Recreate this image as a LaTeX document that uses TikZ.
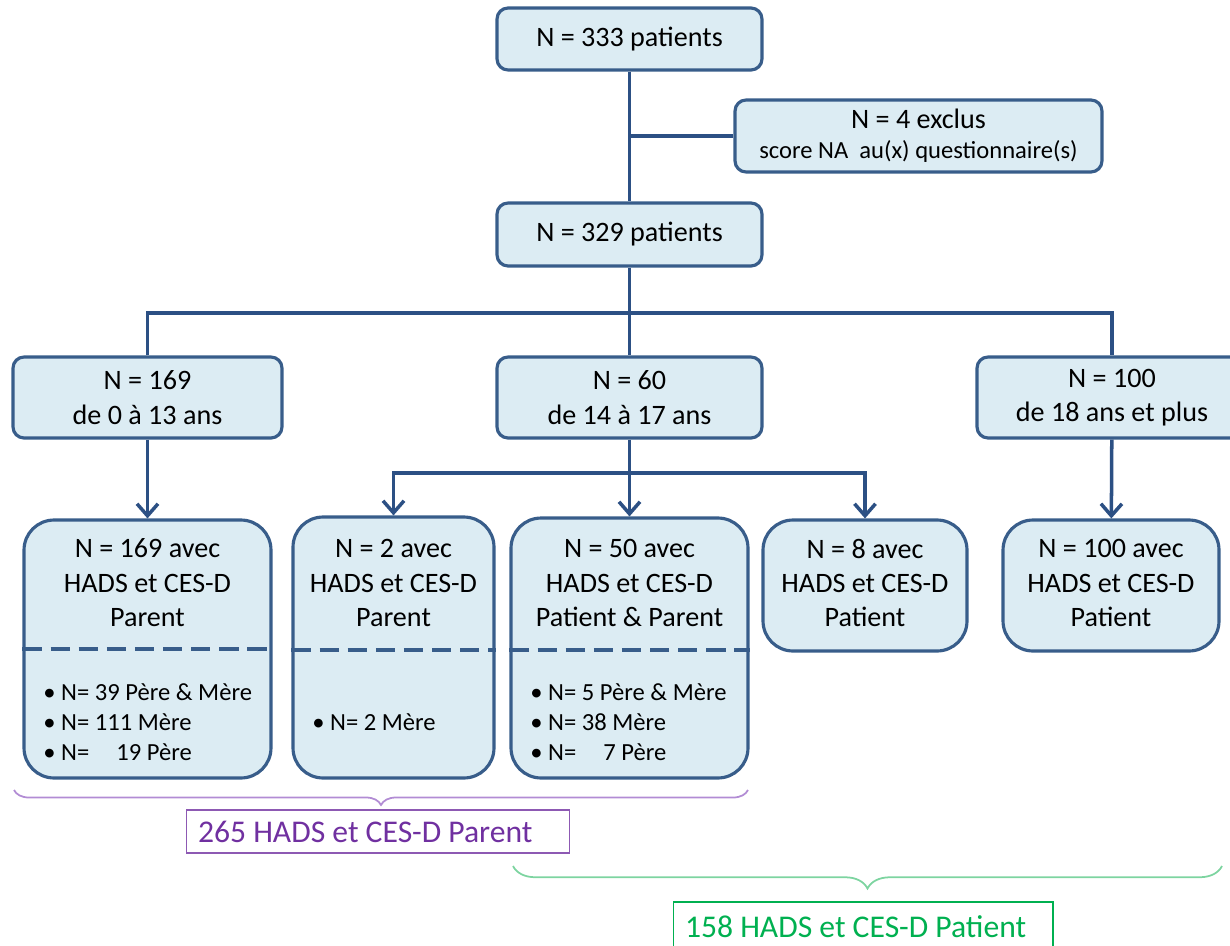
\documentclass[tikz,border=0pt]{standalone}
\usepackage{fontspec}
\setmainfont{Carlito}
\usetikzlibrary{arrows.meta, positioning, calc, decorations.pathreplacing}
\definecolor{boxfill}{RGB}{220, 236, 243}
\definecolor{boxnavy}{RGB}{56, 93, 138}
\definecolor{linknavy}{RGB}{44, 80, 132}
\definecolor{parentpurple}{RGB}{112, 48, 160}
\definecolor{bracepurple}{RGB}{178, 140, 212}
\definecolor{patientgreen}{RGB}{0, 176, 80}
\definecolor{bracegreen}{RGB}{125, 212, 160}
\tikzset{
  >=Stealth,
  link/.style={line width=2pt, linknavy},
  flowarrow/.style={-{Straight Barb[length=2.4mm, width=4.2mm]}, line width=2pt, linknavy}
}
\tikzset{
  stagebox/.style={rectangle, rounded corners=0.22cm, draw=boxnavy, fill=boxfill, line width=1.8pt, align=center, font=\fontsize{16}{19.6}\selectfont},
  groupbox/.style={rectangle, rounded corners=0.6cm, draw=boxnavy, fill=boxfill, line width=1.8pt},
  headtext/.style={align=center, inner sep=0pt, font=\fontsize{16}{19.6}\selectfont},
  sublist/.style={align=left, anchor=west, inner sep=0pt, font=\fontsize{14}{17}\selectfont},
  splitline/.style={boxnavy, line width=1.9pt, dash pattern=on 11pt off 5pt},
  sumbox/.style={rectangle, draw, line width=0.6pt, inner xsep=0.24cm, align=flush left, font=\fontsize{18}{21}\selectfont},
  sumbrace/.style={decorate, line width=1pt}
}

\begin{document}
\begin{tikzpicture}[x=0.02cm, y=-0.02cm]
    \useasboundingbox (0,0) rectangle (1230,946);

    % Whole cohort and exclusions
    \node[stagebox, minimum width=5.3cm, minimum height=1.24cm] (top333) at (629.5, 39) {N = 333 patients};
    \node[stagebox, minimum width=7.34cm, minimum height=1.44cm, font=\fontsize{16}{18}\selectfont] (excl) at (918.5, 136)
        {N = 4 exclus\\[-1pt]{\fontsize{14}{16}\selectfont score NA\ \ au(x) questionnaire(s)}};
    \node[stagebox, minimum width=5.3cm, minimum height=1.26cm] (p329) at (629.5, 234.5) {N = 329 patients};

    % Age groups
    \node[stagebox, minimum width=5.38cm, minimum height=1.62cm] (a169) at (147.5, 397.5) {N = 169\\de 0 à 13 ans};
    \node[stagebox, minimum width=5.3cm, minimum height=1.62cm] (a60) at (629.5, 397.5) {N = 60\\de 14 à 17 ans};
    \node[stagebox, minimum width=5.4cm, minimum height=1.62cm] (a100) at (1112, 397.5) {N = 100\\de 18 ans et plus};

    % Questionnaire groups
    \node[groupbox, minimum width=4.94cm, minimum height=5.16cm] (b169) at (147.5, 649) {};
    \node[groupbox, minimum width=4.02cm, minimum height=5.22cm] (b2) at (393.5, 647.5) {};
    \node[groupbox, minimum width=4.74cm, minimum height=5.2cm] (b50) at (629.5, 648) {};
    \node[groupbox, minimum width=4.08cm, minimum height=2.62cm] (b8) at (865, 585.5) {};
    \node[groupbox, minimum width=4.32cm, minimum height=2.62cm] (b100) at (1111, 585.5) {};

    \node[headtext] (b169head) at (147.5, 583) {N = 169 avec\\HADS et CES-D\\Parent};
    \node[headtext] (b2head) at (393.5, 583) {N = 2 avec\\HADS et CES-D\\Parent};
    \node[headtext] (b50head) at (629.5, 583) {N = 50 avec\\HADS et CES-D\\Patient \& Parent};
    \node[headtext] (b8head) at (865, 583) {N = 8 avec\\HADS et CES-D\\Patient};
    \node[headtext] (b100head) at (1111, 583) {N = 100 avec\\HADS et CES-D\\Patient};

    \draw[splitline] (b169.west |- 0, 649) -- (b169.east |- 0, 649);
    \draw[splitline] (b2.west |- 0, 650) -- (b2.east |- 0, 650);
    \draw[splitline] (b50.west |- 0, 650) -- (b50.east |- 0, 650);

    \node[sublist] (b169list) at (43, 722) {• N= 39 Père \& Mère\\• N= 111 Mère\\• N=\hspace{1.1em}19 Père};
    \node[sublist] (b2list) at (312, 722) {• N= 2 Mère};
    \node[sublist] (b50list) at (530, 722) {• N= 5 Père \& Mère\\• N= 38 Mère\\• N=\hspace{1.1em}7 Père};

    % Connectors
    \coordinate (forkage) at (629.5, 313);
    \coordinate (forkteen) at (629.5, 473);
    \draw[link] (top333) -- (p329);
    \draw[link] (excl.west) -- (excl.west -| top333.south);
    \draw[link] (p329) -- (forkage);
    \draw[link] (a169.north) |- (forkage) -| (a100.north);
    \draw[link] (forkage) -- (a60);
    \draw[link] (a60) -- (forkteen);
    \draw[flowarrow] (a169) -- (b169);
    \draw[flowarrow] (forkteen) -- (b50);
    \draw[flowarrow] (forkteen) -| (b2.north);
    \draw[flowarrow] (forkteen) -| (b8.north);
    \draw[flowarrow] (a100) -- (b100);

    % Totals
    \draw[sumbrace, bracepurple, decoration={brace, mirror, amplitude=0.3cm}] (14, 790) -- (748, 790);
    \node[sumbox, draw=parentpurple!80, text=parentpurple, text width=7.2cm, minimum height=0.86cm] (parentsum) at (378, 831.5) {265 HADS et CES-D Parent};
    \draw[sumbrace, bracegreen, decoration={brace, mirror, amplitude=0.45cm}] (513, 866) -- (1222, 866);
    \node[sumbox, draw=patientgreen, text=patientgreen, text width=7.12cm, minimum height=1cm] (patientsum) at (863, 927) {158 HADS et CES-D Patient};
\end{tikzpicture}
\end{document}
